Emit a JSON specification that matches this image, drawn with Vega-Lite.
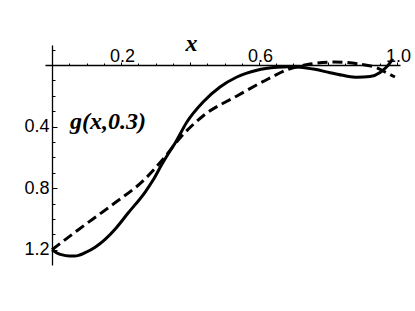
{
  "$schema": "https://vega.github.io/schema/vega-lite/v6.json",
  "autosize": {"type": "none"},
  "padding": {"left": 45, "top": 45, "right": 15, "bottom": 46},
  "width": 355,
  "height": 220,
  "background": "white",
  "config": {"view": {"stroke": null}, "axis": {"grid": false}},
  "datasets": {
    "solid": [
      {"x": 0, "y": 1.2}, {"x": 0.015, "y": 1.221}, {"x": 0.03, "y": 1.233}, {"x": 0.05, "y": 1.24},
      {"x": 0.065, "y": 1.241}, {"x": 0.08, "y": 1.234}, {"x": 0.096, "y": 1.219}, {"x": 0.125, "y": 1.183},
      {"x": 0.154, "y": 1.132}, {"x": 0.186, "y": 1.058}, {"x": 0.22, "y": 0.963}, {"x": 0.27, "y": 0.825},
      {"x": 0.293, "y": 0.747}, {"x": 0.319, "y": 0.643}, {"x": 0.342, "y": 0.558}, {"x": 0.357, "y": 0.506},
      {"x": 0.391, "y": 0.37}, {"x": 0.438, "y": 0.24}, {"x": 0.487, "y": 0.143}, {"x": 0.536, "y": 0.078},
      {"x": 0.594, "y": 0.034}, {"x": 0.652, "y": 0.015},
      {"x": 0.684, "y": 0.011}, {"x": 0.719, "y": 0.014}, {"x": 0.762, "y": 0.028}, {"x": 0.806, "y": 0.05},
      {"x": 0.849, "y": 0.07}, {"x": 0.884, "y": 0.08}, {"x": 0.922, "y": 0.075}, {"x": 0.951, "y": 0.048},
      {"x": 0.971, "y": 0.01}, {"x": 0.988, "y": -0.04}
    ],
    "dashed": [
      {"x": 0, "y": 1.2}, {"x": 0.0754, "y": 1.071}, {"x": 0.174, "y": 0.909}, {"x": 0.2696, "y": 0.74},
      {"x": 0.3246, "y": 0.604}, {"x": 0.371, "y": 0.474}, {"x": 0.4377, "y": 0.331}, {"x": 0.536, "y": 0.201},
      {"x": 0.626, "y": 0.091}, {"x": 0.687, "y": 0.026}, {"x": 0.748, "y": -0.006}, {"x": 0.82, "y": -0.019},
      {"x": 0.893, "y": -0.006}, {"x": 0.942, "y": 0.019}, {"x": 0.971, "y": 0.052}, {"x": 0.994, "y": 0.078}
    ],
    "labels": [
      {"x": 0.052, "y": 0.416, "label": "g(x,0.3)"}
    ]
  },
  "layer": [
    {
      "data": {"name": "solid"},
      "mark": {"type": "line", "interpolate": "monotone", "color": "black", "strokeWidth": 3},
      "encoding": {
        "x": {
          "field": "x", "type": "quantitative",
          "scale": {"domain": [-0.0203, 1.0087], "nice": false, "zero": false},
          "axis": {
            "orient": "top", "offset": -20, "values": [0.2, 0.4, 0.6, 0.8, 1.0], "format": ".1f",
            "labelExpr": "datum.value == 0.4 || datum.value == 0.8 ? '' : datum.label",
            "tickSize": 3, "tickColor": "black", "tickWidth": 1, "domainColor": "black", "domainWidth": 1.3,
            "labelFont": "Liberation Sans", "labelFontSize": 18, "labelColor": "black", "labelPadding": 1,
            "labelBaseline": "alphabetic", "labelOffset": 1,
            "title": "x", "titleX": 146, "titleY": -15, "titleAlign": "center", "titleBaseline": "alphabetic",
            "titleFont": "Liberation Serif", "titleFontStyle": "italic", "titleFontWeight": "bold",
            "titleFontSize": 24, "titleColor": "black"
          }
        },
        "y": {
          "field": "y", "type": "quantitative",
          "scale": {"domain": [-0.1299, 1.2987], "reverse": true, "nice": false, "zero": false},
          "axis": {
            "orient": "left", "offset": -7, "values": [0.4, 0.8, 1.2], "format": ".1f",
            "tickSize": -5, "tickColor": "black", "tickWidth": 1, "domainColor": "black", "domainWidth": 1.3,
            "labelFont": "Liberation Sans", "labelFontSize": 18, "labelColor": "black", "labelPadding": 8,
            "title": null
          }
        }
      }
    },
    {
      "data": {"name": "dashed"},
      "mark": {"type": "line", "interpolate": "monotone", "color": "black", "strokeWidth": 3, "strokeDash": [10, 5]},
      "encoding": {
        "x": {
          "field": "x", "type": "quantitative",
          "scale": {"domain": [-0.0203, 1.0087], "nice": false, "zero": false},
          "axis": {
            "orient": "top", "offset": -20,
            "values": [0.05, 0.1, 0.15, 0.25, 0.3, 0.35, 0.45, 0.5, 0.55, 0.65, 0.7, 0.75, 0.85, 0.9, 0.95],
            "tickSize": 2, "tickColor": "black", "tickWidth": 1, "domain": false, "labels": false, "title": null
          }
        },
        "y": {
          "field": "y", "type": "quantitative",
          "scale": {"domain": [-0.1299, 1.2987], "reverse": true, "nice": false, "zero": false},
          "axis": {
            "orient": "left", "offset": -7,
            "values": [-0.1, 0.1, 0.2, 0.3, 0.5, 0.6, 0.7, 0.9, 1.0, 1.1, 1.3],
            "tickSize": -3, "tickColor": "black", "tickWidth": 1, "domain": false, "labels": false, "title": null
          }
        }
      }
    },
    {
      "data": {"name": "labels"},
      "mark": {"type": "text", "align": "left", "baseline": "alphabetic", "font": "Liberation Serif",
               "fontStyle": "italic", "fontWeight": "bold", "fontSize": 24, "color": "black"},
      "encoding": {
        "x": {"field": "x", "type": "quantitative", "axis": null},
        "y": {"field": "y", "type": "quantitative", "axis": null},
        "text": {"field": "label"}
      }
    }
  ],
  "resolve": {"axis": {"x": "independent", "y": "independent"}}
}
